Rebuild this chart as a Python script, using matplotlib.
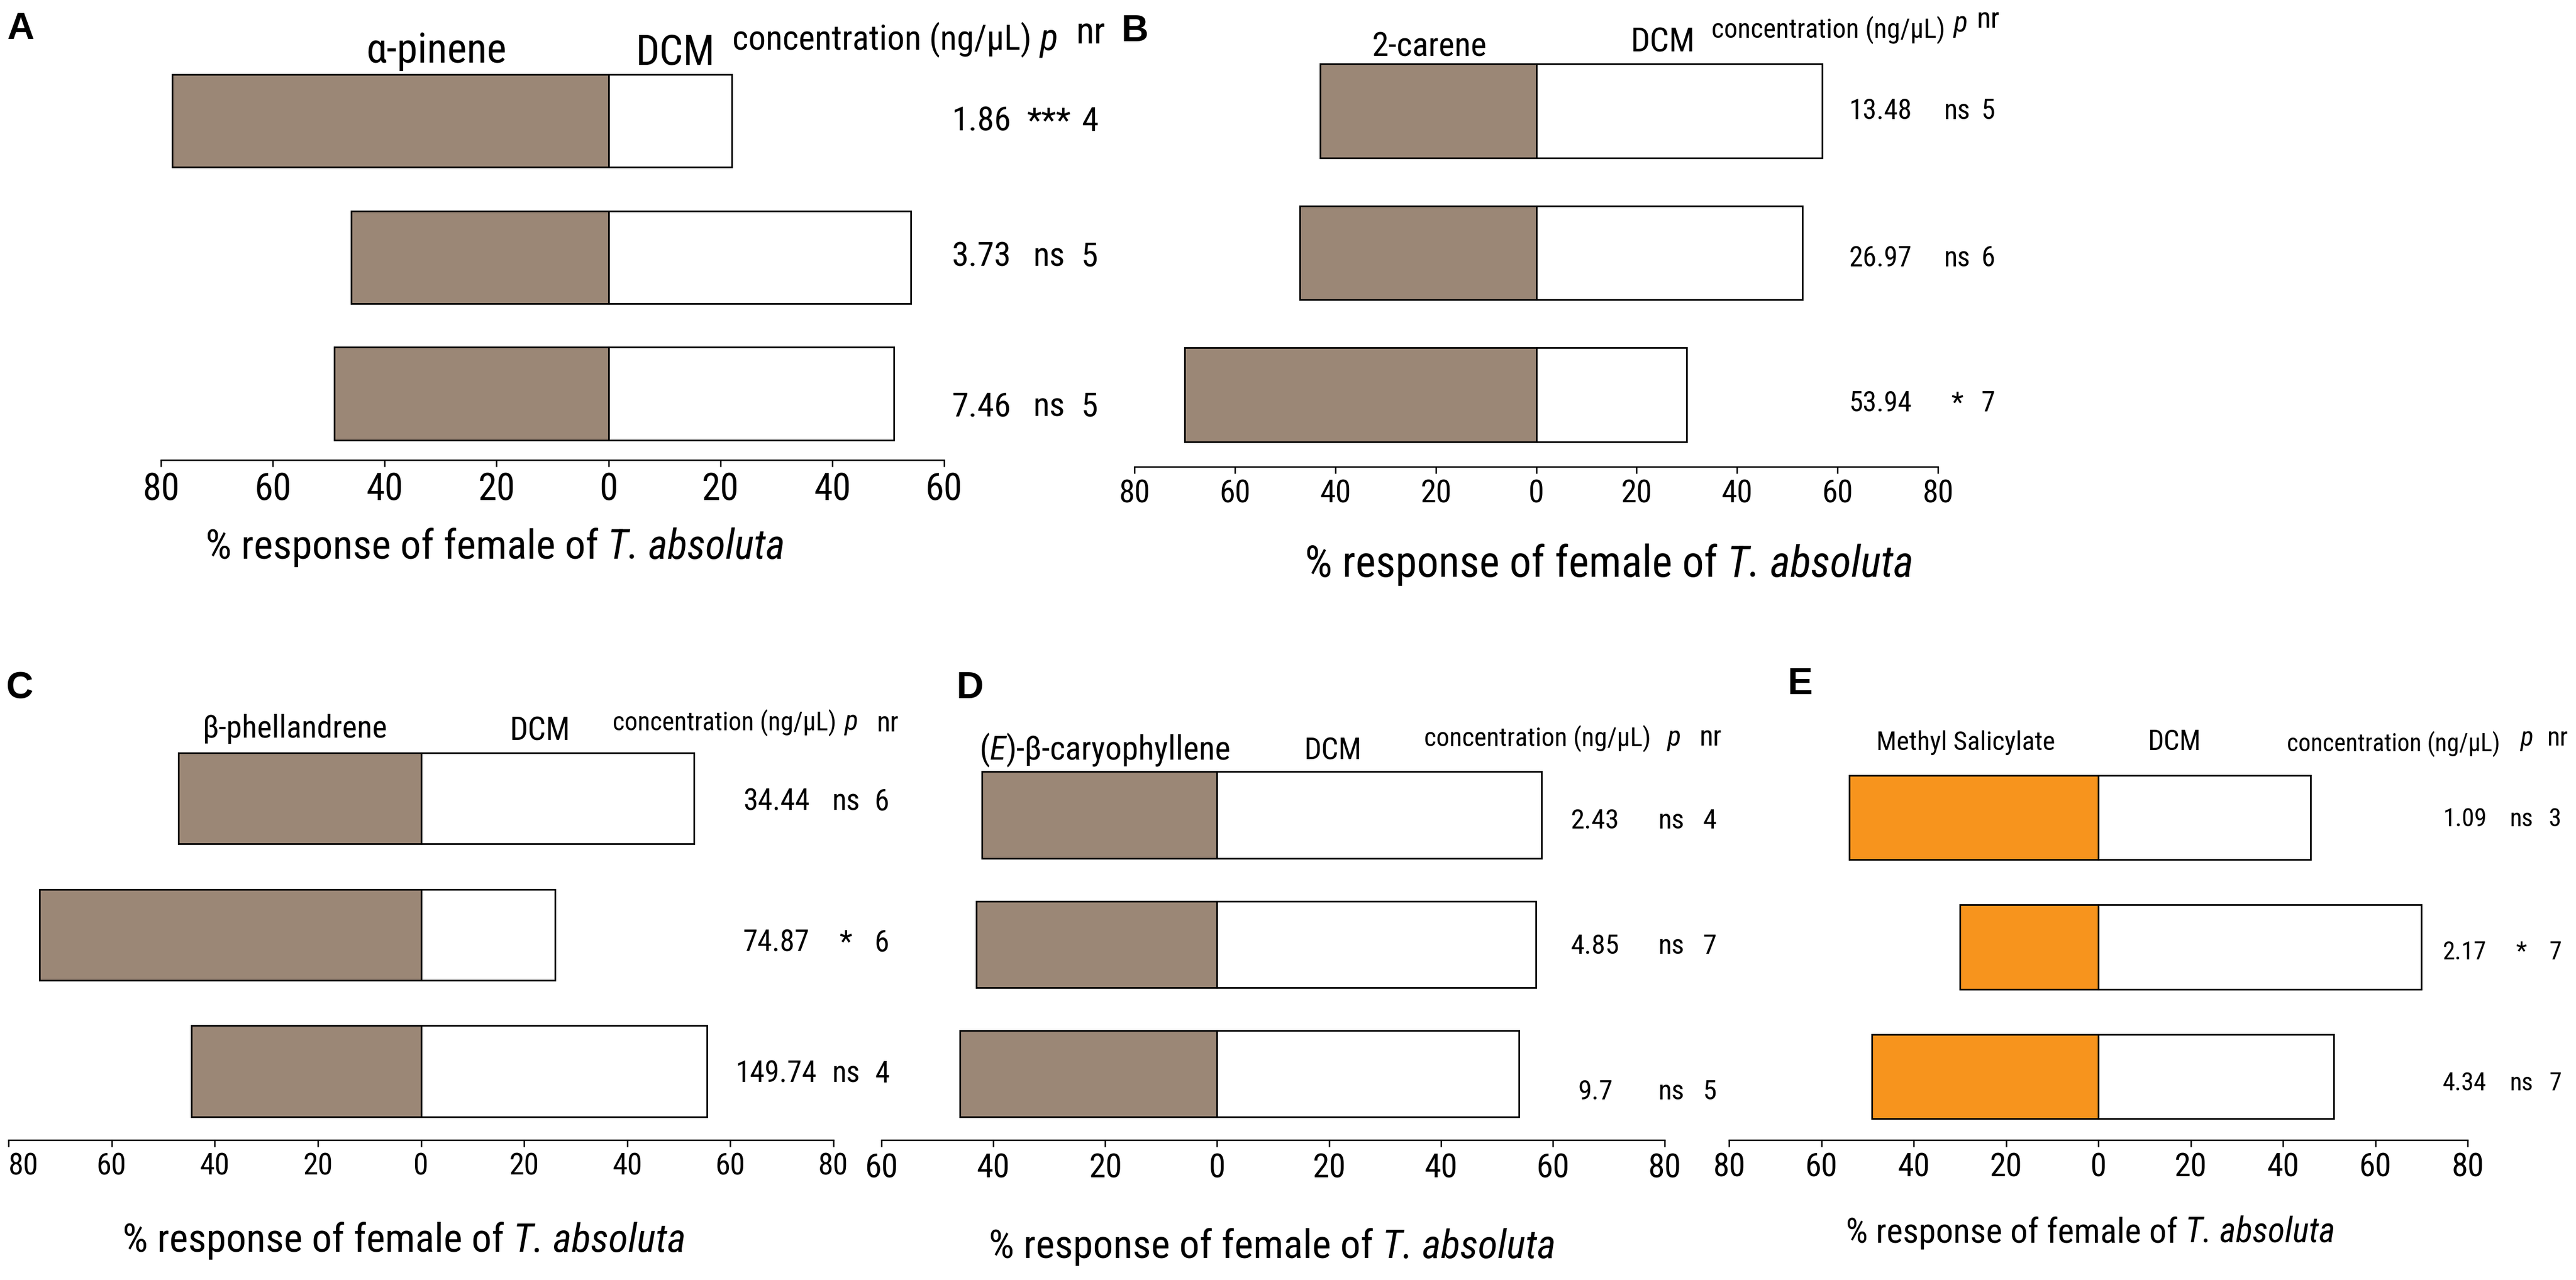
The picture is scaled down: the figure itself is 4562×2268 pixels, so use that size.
import matplotlib
matplotlib.use('Agg')
import matplotlib.pyplot as plt
from matplotlib import font_manager

W, H = 4562, 2268
DPI = 300

# ---- data ----
letters = ['A', 'B', 'C', 'D', 'E']
# compound names as (text, style) pieces, "(E)" has an italic E
compounds = [[('α-pinene', 'normal')],
             [('2-carene', 'normal')],
             [('β-phellandrene', 'normal')],
             [('(', 'normal'), ('E', 'italic'), (')-β-caryophyllene', 'normal')],
             [('Methyl Salicylate', 'normal')]]
compound_pct = [[78, 46, 49],
                [43, 47, 70],
                [47, 74, 44.5],
                [42, 43, 46],
                [54, 30, 49]]
dcm_pct = [[22, 54, 51],
           [57, 53, 30],
           [53, 26, 55.5],
           [58, 57, 54],
           [46, 70, 51]]
concentrations = [['1.86', '3.73', '7.46'],
                  ['13.48', '26.97', '53.94'],
                  ['34.44', '74.87', '149.74'],
                  ['2.43', '4.85', '9.7'],
                  ['1.09', '2.17', '4.34']]
p_values = [['***', 'ns', 'ns'],
            ['ns', 'ns', '*'],
            ['ns', '*', 'ns'],
            ['ns', 'ns', 'ns'],
            ['ns', '*', 'ns']]
n_reps = [['4', '5', '5'],
          ['5', '6', '7'],
          ['6', '6', '4'],
          ['4', '7', '5'],
          ['3', '7', '7']]
x_limits = [(-80, 60), (-80, 80), (-80, 80), (-60, 80), (-80, 80)]
xlabel = [('% response of female of', 'normal'), ('T. absoluta', 'italic')]
brown = '#9b8776'
orange = '#f7941d'
fill_colors = [brown, brown, brown, brown, orange]

# ---- layout in pixels of the 4562x2268 image ----
# left, right, first bar centre, last bar centre, axis line, bar height
frames = [(285, 1672, 214, 697.5, 815, 0.68),
          (2009, 3432, 196.5, 699.5, 827, 0.664),
          (15, 1476, 1414.5, 1898, 2020, 0.666),
          (1561, 2948, 1444, 1902.5, 2020, 0.668),
          (3062, 4370, 1448.5, 1907.5, 2020, 0.65)]
# measured text widths in the reference (px):
# xlabel, compound, DCM, concentration header, first value, first tick label
widths = [(978, 237, 134, 504, 100, 63),
          (1026, 194, 109, 395, 106, 53),
          (951, 312, 102, 378, 112, 51),
          (955, 424, 97, 383, 82, 56),
          (825, 302, 90, 360, 74, 55)]
letter_pos = [(12, 21), (1985, 25), (10, 1189), (1694, 1189), (3165, 1182)]
xlabel_pos = [(877, 990), (2850, 1022), (716, 2218), (2253, 2229), (3702, 2202)]
# compound x, DCM x, conc x, p x, nr x ; header baselines
header_x = [(773, 1196, 1562, 1857, 1932),
            (2531, 2944, 3238, 3472, 3521),
            (523, 956, 1283, 1507, 1572),
            (1957, 2361, 2723, 2964, 3030),
            (3481, 3850, 4239, 4474, 4530)]
header_y = [(111, 116, 88, 88, 77),
            (99, 92, 67, 56, 49),
            (1307, 1311, 1293, 1293, 1296),
            (1346, 1346, 1321, 1321, 1321),
            (1329, 1329, 1332, 1321, 1321)]
value_x = [(1738, 1857, 1930),
           (3330, 3466, 3521),
           (1375, 1498, 1562),
           (2825, 2960, 3028),
           (4365, 4465, 4525)]
value_y = [(232, 472, 737),
           (211, 472, 729),
           (1436, 1686, 1918),
           (1468, 1690, 1948),
           (1464, 1700, 1932)]

# the figure uses a narrow Arial-like face; take the first one installed with an italic
styles = {}
for f in font_manager.fontManager.ttflist:
    styles.setdefault(f.name, set()).add(f.style)
fam = 'Liberation Sans'
for cand in ['Liberation Sans Narrow', 'Arial Narrow', 'Roboto Condensed',
             'Archivo Narrow', 'Asap Condensed', 'PT Sans Narrow']:
    if cand in styles and 'italic' in styles[cand]:
        fam = cand
        break

plt.rcParams['font.family'] = [fam, 'DejaVu Sans']
GROW = 1.05  # reference glyphs are taller than a width match gives

fig = plt.figure(figsize=(W / DPI, H / DPI), dpi=DPI)
fig.patch.set_facecolor('white')
renderer = fig.canvas.get_renderer()


def put(x, y, s, size, ha='center', va='baseline', **kw):
    return fig.text(x / W, 1 - y / H, s, fontsize=size, ha=ha, va=va, **kw)


def put_pieces(x, y, pieces, size, va='baseline'):
    # lay out mixed upright/italic pieces side by side, centred on x
    probe = [put(0, y, s, size, ha='left', va=va) for s in ('n n', 'nn')]
    space = (probe[0].get_window_extent(renderer).width
             - probe[1].get_window_extent(renderer).width)
    for t in probe:
        t.remove()
    texts, ws = [], []
    for s, st in pieces:
        t = put(0, y, s, size, ha='left', va=va, style=st)
        texts.append(t)
        ws.append(t.get_window_extent(renderer).width)
    gaps = [space if len(pieces[k][0]) > 1 and len(pieces[k + 1][0]) > 1 else 0
            for k in range(len(pieces) - 1)] + [0]
    total = sum(ws) + sum(gaps)
    cur = x - total / 2
    for k, t in enumerate(texts):
        t.set_x(cur / W)
        cur += ws[k] + gaps[k]
    return texts, total


def fit(pieces, target):
    # font size that gives the reference width
    texts, total = put_pieces(0, 0, pieces, 10)
    for t in texts:
        t.remove()
    return 10 * target / total * GROW


for i in range(5):
    left, right, first, last, axis_y, bar_h = frames[i]
    w_xl, w_cp, w_dcm, w_cc, w_val, w_tick = widths[i]
    lo, hi = x_limits[i]
    ticks = list(range(lo, hi + 1, 20))

    spacing = (last - first) / 2
    top = first - 0.6 * spacing
    ax = fig.add_axes([left / W, 1 - axis_y / H, (right - left) / W, (axis_y - top) / H])
    rows = [0, 1, 2]
    ax.barh(rows, [-v for v in compound_pct[i]], height=bar_h, color=fill_colors[i],
            edgecolor='black', linewidth=0.7)
    ax.barh(rows, dcm_pct[i], height=bar_h, color='white',
            edgecolor='black', linewidth=0.7)
    ax.set_xlim(lo, hi)
    ax.set_ylim(2 + (axis_y - last) / spacing, -0.6)
    ax.set_xticks(ticks)
    ax.set_xticklabels([str(abs(t)) for t in ticks])
    ax.set_yticks([])
    for side in ['top', 'left', 'right']:
        ax.spines[side].set_visible(False)
    ax.spines['bottom'].set_linewidth(0.6)
    tick_size = fit([(str(abs(ticks[0 if i != 3 else 1])), 'normal')], w_tick)
    ax.tick_params(axis='x', length=2.9, width=0.6, pad=2.2, labelsize=tick_size)
    ax.patch.set_alpha(0)
    if left < 40:
        # leftmost label sits against the image edge
        ax.get_xticklabels()[0].set_horizontalalignment('left')

    put_pieces(xlabel_pos[i][0], xlabel_pos[i][1], xlabel, fit(xlabel, w_xl))
    fig.text(letter_pos[i][0] / W, 1 - letter_pos[i][1] / H, letters[i],
             fontsize=16, fontweight='bold', family='Liberation Sans', ha='left', va='top')

    hx, hy = header_x[i], header_y[i]
    put_pieces(hx[0], hy[0], compounds[i], fit(compounds[i], w_cp))
    put(hx[1], hy[1], 'DCM', fit([('DCM', 'normal')], w_dcm))
    cc = fit([('concentration (ng/µL)', 'normal')], w_cc)
    put(hx[2], hy[2], 'concentration (ng/µL)', cc)
    put(hx[3], hy[3], 'p', cc * 1.08, style='italic')
    put(hx[4], hy[4], 'nr', cc * 1.08)

    vl = fit([(concentrations[i][0], 'normal')], w_val)
    vx = value_x[i]
    for r in range(3):
        vy = value_y[i][r]
        put(vx[0], vy, concentrations[i][r], vl)
        put(vx[1], vy, p_values[i][r], vl)
        put(vx[2], vy, n_reps[i][r], vl)

fig.savefig('out.png', dpi=DPI, facecolor='white')
